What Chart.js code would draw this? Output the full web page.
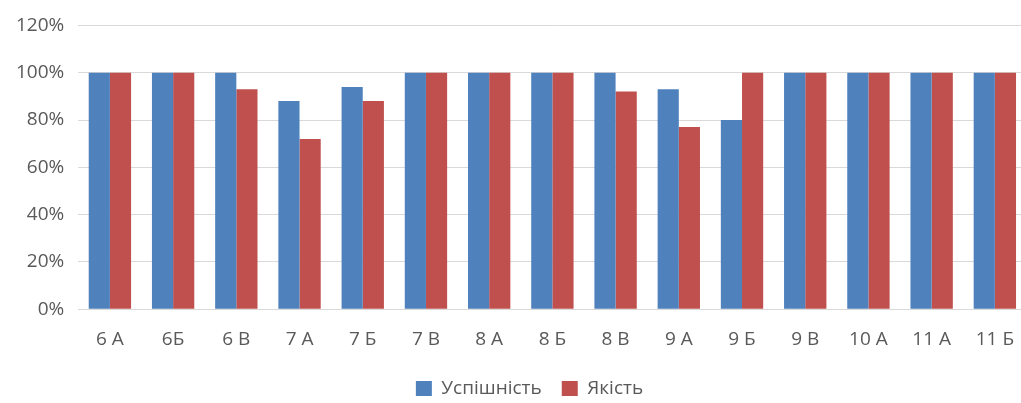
<!DOCTYPE html>
<html>
<head>
<meta charset="utf-8">
<script src="https://cdn.jsdelivr.net/npm/chart.js@4"></script>
<style>
  html, body { margin: 0; padding: 0; background: #ffffff; overflow: hidden; }
  #wrap { position: relative; width: 1033px; height: 403px; }
</style>
</head>
<body>
<div id="wrap"><canvas id="chart"></canvas></div>
<script>
/* ---------- data ---------- */
const classes = ["6 А", "6Б", "6 В", "7 А", "7 Б", "7 В", "8 А", "8 Б", "8 В", "9 А", "9 Б", "9 В", "10 А", "11 А", "11 Б"];
const uspishnist = [100, 100, 100, 88, 94, 100, 100, 100, 100, 93, 80, 100, 100, 100, 100];
const yakist = [100, 100, 93, 72, 88, 100, 100, 100, 92, 77, 100, 100, 100, 100, 100];
const seriesNames = ["Успішність", "Якість"];

/* ---------- theme ---------- */
const COLORS = { blue: "#4f81bd", red: "#c0504d", grid: "#d9d9d9", text: "#595959" };
const FONT = "'Open Sans', 'Noto Sans', sans-serif";

// nudge the legend a little to the right, like the original
const legendShift = {
    id: "legendShift",
    afterLayout(chart) {
        chart.legend.left += 12;
        chart.legend.right += 12;
    }
};

new Chart(document.getElementById("chart"), {
    type: "bar",
    data: {
        labels: classes,
        datasets: [
            { label: seriesNames[0], data: uspishnist, backgroundColor: COLORS.blue },
            { label: seriesNames[1], data: yakist, backgroundColor: COLORS.red }
        ]
    },
    plugins: [legendShift],
    options: {
        responsive: true,
        maintainAspectRatio: false,
        animation: false,
        datasets: { bar: { categoryPercentage: 0.67, barPercentage: 1.0 } },
        layout: { padding: { top: 10, left: 2, right: 0, bottom: -5 } },
        plugins: {
            tooltip: { enabled: false },
            legend: {
                position: "bottom",
                labels: {
                    boxWidth: 16, boxHeight: 15, padding: 20,
                    color: COLORS.text,
                    font: { family: FONT, size: 19 }
                }
            }
        },
        scales: {
            x: {
                grid: { display: false, drawTicks: false },
                border: { color: COLORS.grid },
                ticks: { color: COLORS.text, padding: 19, font: { family: FONT, size: 19 } },
                afterFit: s => { s.height -= 11; }
            },
            y: {
                min: 0, max: 120,
                grid: { color: COLORS.grid, drawTicks: false },
                border: { display: false },
                ticks: {
                    stepSize: 20, padding: 14, color: COLORS.text,
                    font: { family: FONT, size: 19 },
                    callback: v => v + "%"
                }
            }
        }
    }
});
</script>
</body>
</html>
